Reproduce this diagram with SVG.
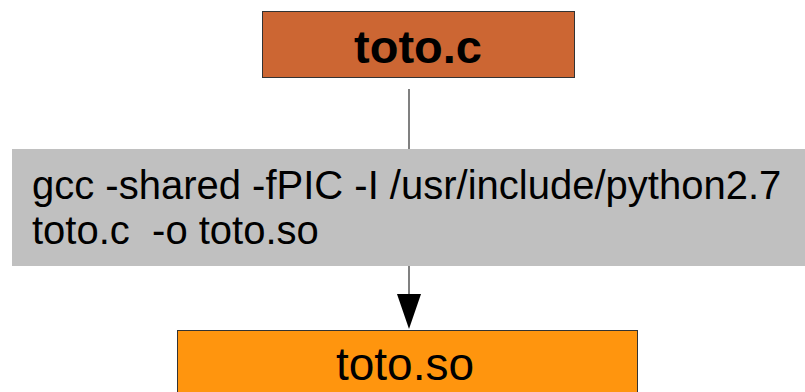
<svg xmlns="http://www.w3.org/2000/svg" width="805" height="392" viewBox="0 0 805 392">
  <defs>
    <style>
      .label { font-family: "Liberation Sans", Arial, sans-serif; fill: #000000; white-space: pre; }
      .box { stroke: #333333; stroke-width: 1; }
      .edge { stroke: #808080; stroke-width: 2; fill: none; }
    </style>
  </defs>
  <rect width="805" height="392" fill="#ffffff"/>

  <!-- connectors -->
  <g id="connectors">
    <line class="edge" x1="409" y1="89" x2="409" y2="149"/>
    <line class="edge" x1="409" y1="266" x2="409" y2="296"/>
    <path d="M397,294 L421,294 L409,329 Z" fill="#000000"/>
  </g>

  <!-- source file -->
  <g id="node-source">
    <rect class="box" x="262.5" y="11.5" width="312" height="66" fill="#cc6633"/>
    <text class="label" x="418" y="63" font-size="47" font-weight="bold" text-anchor="middle">toto.c</text>
  </g>

  <!-- compile command -->
  <g id="node-command">
    <rect x="12" y="149" width="800" height="117" fill="#c0c0c0"/>
    <text class="label" x="32" y="199" font-size="40">gcc -shared -fPIC -I /usr/include/python2.7</text>
    <text class="label" x="32" y="244" font-size="40" xml:space="preserve">toto.c  -o toto.so</text>
  </g>

  <!-- shared library -->
  <g id="node-library">
    <rect class="box" x="177.5" y="330.5" width="460" height="70" fill="#ff950e"/>
    <text class="label" x="405" y="380" font-size="46" text-anchor="middle">toto.so</text>
  </g>
</svg>
